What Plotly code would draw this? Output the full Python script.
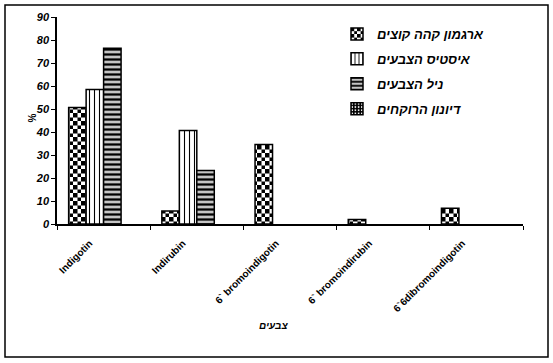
import plotly.graph_objects as go

categories = ["Indigotin", "Indirubin", "6` bromoindigotin", "6` bromoindirubin", "6`6dibromoindigotin"]
series_names = ["ארגמון קהה קוצים", "איסטיס הצבעים", "ניל הצבעים", "דיונון הרוקחים"]
argaman = [50.7, 5.6, 34.6, 2.0, 6.8]
istis = [58.5, 40.6, None, None, None]
nil = [76.4, 23.3, None, None, None]
dionon = [None, None, None, None, None]
y_ticks = [0, 10, 20, 30, 40, 50, 60, 70, 80, 90]

W, H = 553, 363
L, R, T, B = 57, 30, 17, 139

def checker(size):
    h = size / 2
    return f"M0,0H{h}V{h}H0Z M{h},{h}H{size}V{size}H{h}Z"

patterns = []
try:
    go.bar.marker.Pattern(path=checker(9))
    patterns.append(dict(path=checker(9), fgcolor="black", bgcolor="white", fillmode="replace"))
except Exception:
    patterns.append(dict(shape="x", size=6, solidity=0.45, fgcolor="black", bgcolor="white"))
patterns.append(dict(shape="|", size=5, solidity=0.22, fgcolor="black", bgcolor="white"))
patterns.append(dict(shape="-", size=5, solidity=0.45, fgcolor="black", bgcolor="#c4c4c4"))
patterns.append(dict(shape=".", size=4, solidity=0.25, fgcolor="white", bgcolor="black"))

fig = go.Figure()
for i, (name, vals, pat) in enumerate(zip(series_names, [argaman, istis, nil, dionon], patterns)):
    fig.add_trace(go.Bar(
        x=categories, y=vals, name=name, legendgroup=f"g{i}",
        marker=dict(color="white", line=dict(color="black", width=1.5), pattern=pat),
    ))

pw = W - L - R
ph = H - T - B

fig.update_layout(
    template="none",
    width=W, height=H,
    margin=dict(l=L, r=R, t=T, b=B, autoexpand=False),
    paper_bgcolor="white", plot_bgcolor="white",
    barmode="group", bargap=0.25, bargroupgap=0,
    font=dict(family="Liberation Sans, Arial", color="black"),
    legend=dict(
        x=(337 - L) / pw, y=(224 - 19) / ph, xanchor="left", yanchor="top",
        font=dict(family="Liberation Sans, Arial", size=13, weight="bold", style="italic", color="black"),
        itemwidth=30, tracegroupgap=5, bgcolor="rgba(0,0,0,0)",
    ),
    xaxis=dict(
        automargin=False,
        showline=True, linecolor="black", linewidth=1.5, mirror=False,
        ticks="outside", ticklen=4, tickcolor="black", tickwidth=1, tickson="boundaries",
        tickangle=-45,
        tickfont=dict(size=10, family="Liberation Sans, Arial", weight="bold", color="black"),
        ticklabelshift=-14, ticklabelstandoff=8,
        showgrid=False, zeroline=False,
    ),
    yaxis=dict(
        automargin=False,
        range=[0, 90], tickvals=y_ticks, showline=True, linecolor="black", linewidth=1.5,
        ticks="outside", ticklen=4, tickcolor="black", tickwidth=1, showgrid=False, zeroline=False,
        tickfont=dict(size=11, family="Liberation Sans, Arial", weight="bold", style="italic", color="black"),
    ),
    shapes=[dict(
        type="rect", xref="paper", yref="paper",
        x0=(5 - L) / pw, x1=(548 - L) / pw,
        y0=(224 - 357) / ph, y1=(224 - 5) / ph,
        line=dict(color="black", width=1.5), fillcolor="rgba(0,0,0,0)", layer="above",
    )],
    annotations=[
        dict(text="צבעים", xref="paper", yref="paper", x=(273 - L) / pw, y=(224 - 333) / ph,
             showarrow=False, font=dict(size=10, weight="bold", style="italic", color="black")),
        dict(text="%", xref="paper", yref="paper", x=(25 - L) / pw, y=(224 - 118) / ph,
             textangle=-90, showarrow=False, font=dict(size=10, weight="bold", color="black")),
    ],
)

fig.write_html(
    "out.html",
    config={"displayModeBar": False},
    post_script="document.body.style.margin='0';document.body.style.overflow='hidden';",
)
